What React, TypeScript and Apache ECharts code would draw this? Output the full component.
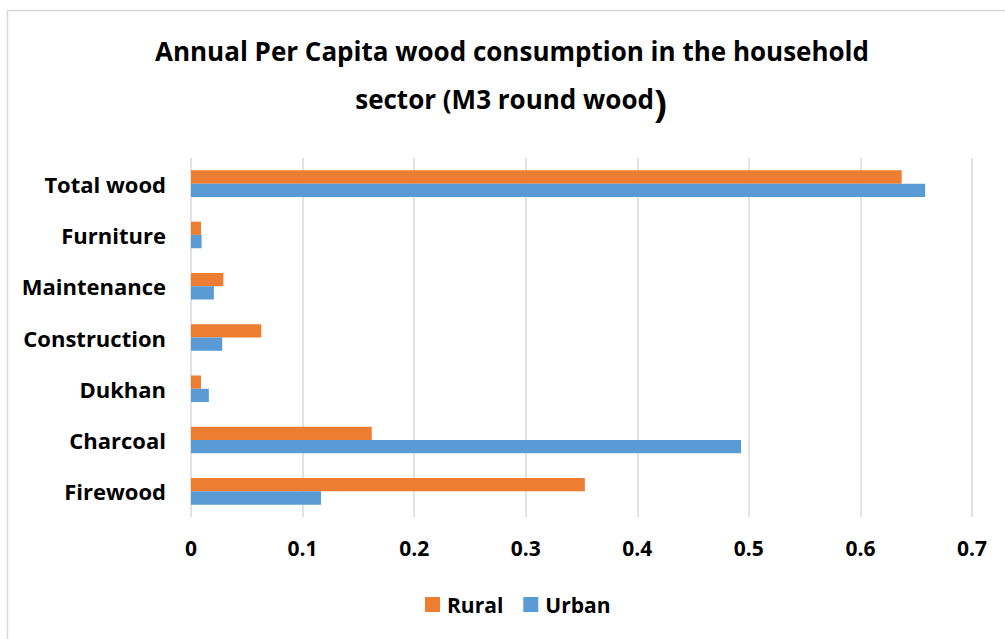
import React, { useEffect, useRef } from "react";
import * as echarts from "echarts";

const categories = ["Firewood", "Charcoal", "Dukhan", "Construction", "Maintenance", "Furniture", "Total wood"];
const ruralValues = [0.353, 0.162, 0.009, 0.063, 0.029, 0.009, 0.637];
const urbanValues = [0.1165, 0.493, 0.016, 0.028, 0.0205, 0.0095, 0.658];
const xTicks = { min: 0, max: 0.7, interval: 0.1 };
const titleLine1 = "Annual Per Capita wood consumption in the household";
const titleLine2 = "sector (M3 round wood";

const FONT = "Open Sans";

export default function App() {
  const ref = useRef<HTMLDivElement>(null);
  useEffect(() => {
    if (!ref.current) return;
    const chart = echarts.init(ref.current, undefined, { renderer: "svg" });
    chart.setOption({
      animation: false,
      backgroundColor: "#ffffff",
      graphic: [
        {
          type: "rect",
          shape: { x: 7.5, y: 10.5, width: 1010, height: 640 },
          style: { fill: "none", stroke: "#d9d9d9", lineWidth: 1.5 },
          silent: true,
        },
        {
          type: "text",
          x: 512,
          y: 51,
          style: {
            text: titleLine1,
            fill: "#000",
            font: `bold 26px "${FONT}"`,
            textAlign: "center",
            textVerticalAlign: "middle",
          },
        },
        {
          type: "text",
          x: 511,
          y: 99,
          style: {
            text: titleLine2 + "{p|)}",
            fill: "#000",
            font: `bold 26px "${FONT}"`,
            textAlign: "center",
            textVerticalAlign: "middle",
            rich: {
              p: { fontFamily: FONT, fontWeight: "bold", fontSize: 38, fill: "#000", padding: [6, 0, 0, 0] },
            },
          },
        },
      ],
      legend: {
        data: ["Rural", "Urban"],
        top: 594,
        left: 425,
        icon: "rect",
        itemWidth: 15,
        itemHeight: 15,
        itemGap: 20,
        padding: 0,
        textStyle: { fontFamily: FONT, fontWeight: "bold", fontSize: 21, color: "#000", padding: [0, 0, 0, 2] },
      },
      grid: { left: 191, right: 33, top: 158, bottom: 122, containLabel: false },
      xAxis: {
        type: "value",
        min: xTicks.min,
        max: xTicks.max,
        interval: xTicks.interval,
        axisLine: { show: false },
        axisTick: { show: false },
        splitLine: { lineStyle: { color: "#d9d9d9", width: 1.5 } },
        axisLabel: {
          margin: 20,
          fontFamily: FONT,
          fontWeight: "bold",
          fontSize: 21,
          color: "#000",
          formatter: (v: number) => String(Math.round(v * 10) / 10),
        },
      },
      yAxis: {
        type: "category",
        data: categories,
        axisLine: { show: false },
        axisTick: { show: false },
        axisLabel: { margin: 25, fontFamily: FONT, fontWeight: "bold", fontSize: 22, color: "#000" },
      },
      series: [
        {
          name: "Rural",
          type: "bar",
          data: ruralValues,
          barWidth: 13.3,
          barGap: "0%",
          itemStyle: { color: "#ED7D31" },
        },
        {
          name: "Urban",
          type: "bar",
          data: urbanValues,
          barWidth: 13.3,
          barGap: "0%",
          itemStyle: { color: "#5B9BD5" },
        },
      ],
    });
    return () => chart.dispose();
  }, []);
  return <div ref={ref} style={{ position: "absolute", left: 0, top: 0, width: 1005, height: 639 }} />;
}
